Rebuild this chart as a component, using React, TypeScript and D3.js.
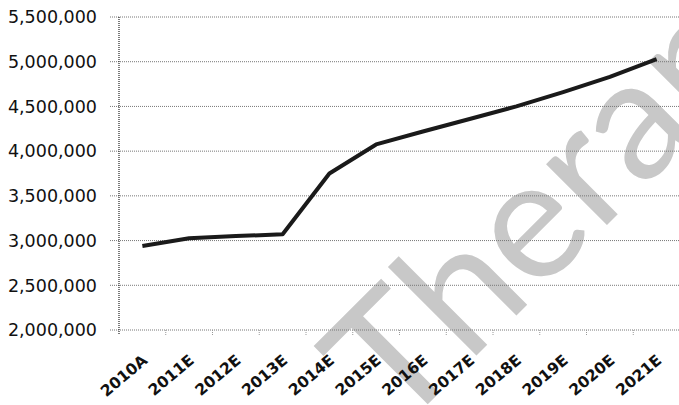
import React from "react";
import * as d3 from "d3";

const categories = ["2010A","2011E","2012E","2013E","2014E","2015E","2016E","2017E","2018E","2019E","2020E","2021E"];
const values = [2940000, 3025000, 3050000, 3070000, 3750000, 4075000, 4220000, 4360000, 4500000, 4660000, 4830000, 5030000];
const yTicks = [2000000, 2500000, 3000000, 3500000, 4000000, 4500000, 5000000, 5500000];

const W = 679, H = 405;
const left = 119, right = 680, top = 17, bottom = 330;

export default function App() {
  const x = d3.scaleBand<string>().domain(categories).range([left, right]).padding(0);
  const y = d3.scaleLinear().domain([2000000, 5500000]).range([bottom, top]);
  const fmt = d3.format(",");
  const line = d3.line<number>()
    .x((_, i) => (x(categories[i]) as number) + x.bandwidth() / 2)
    .y((d) => y(d));
  return (
    <svg width={W} height={H} style={{ position: "absolute", left: 0, top: 0, background: "#fff" }}>
      <g fill="#c8c8c8">
        <text x={398} y={434} fontSize={170} transform="rotate(-45 398 434)" fontFamily="Lato">Therapeutics</text>
      </g>
      {yTicks.map((t) => (
        <g key={t}>
          <line x1={110} x2={W} y1={y(t)} y2={y(t)} stroke="#777" strokeWidth={1} strokeDasharray="1,1" />
          <text x={97} y={y(t)} dy="0.36em" textAnchor="end" fontFamily="DejaVu Sans" fontSize={17.5} fill="#111">{fmt(t)}</text>
        </g>
      ))}
      <line x1={left} x2={left} y1={top} y2={bottom + 5} stroke="#222" strokeWidth={1.2} strokeDasharray="1,1" />
      {categories.map((c) => (
        <line key={"t" + c} x1={(x(c) as number) + x.bandwidth()} x2={(x(c) as number) + x.bandwidth()} y1={bottom} y2={bottom + 5} stroke="#999" strokeWidth={1} strokeDasharray="1,1" />
      ))}
      <path d={line(values) || ""} fill="none" stroke="#1a1a1a" strokeWidth={4} strokeLinejoin="round" />
      {categories.map((c) => {
        const cx = (x(c) as number) + x.bandwidth() / 2 + 6;
        const cy = 362;
        return (
          <text key={c} x={cx} y={cy} textAnchor="end" fontFamily="DejaVu Sans" fontWeight="bold" fontSize={15.5} fill="#111" transform={`rotate(-40 ${cx} ${cy})`}>{c}</text>
        );
      })}
    </svg>
  );
}
